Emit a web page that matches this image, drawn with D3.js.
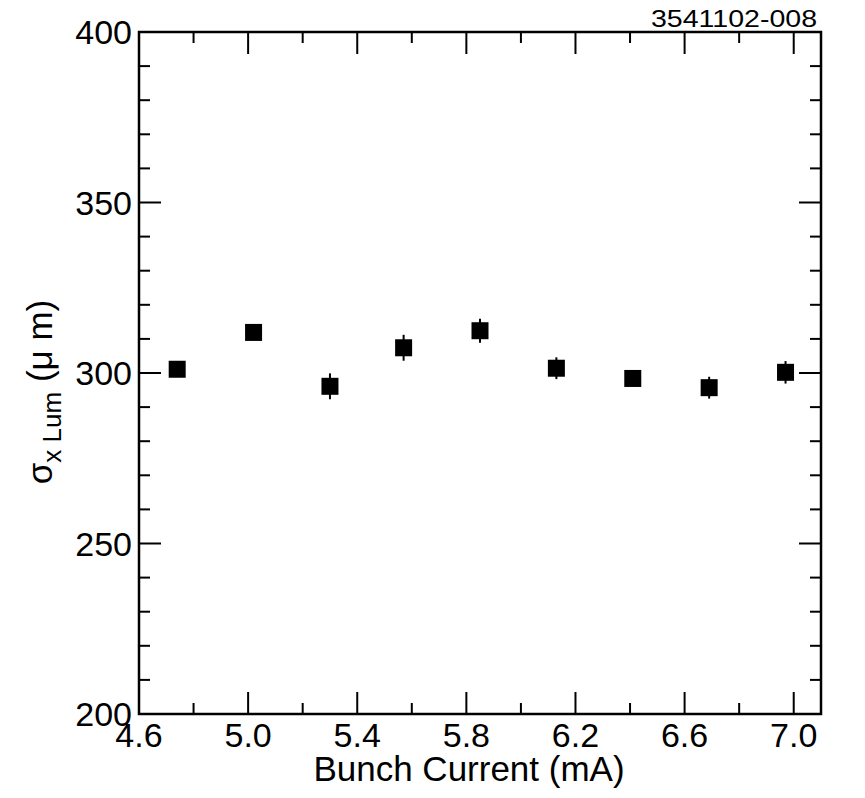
<!DOCTYPE html>
<html>
<head>
<meta charset="utf-8">
<script src="https://cdn.jsdelivr.net/npm/d3@7"></script>
<style>
  body { margin: 0; background: #fff; }
  text { font-family: "Liberation Sans", Arial, sans-serif; fill: #000; }
</style>
</head>
<body>
<div class="chart"></div>
<script>
// bunch current (mA) and sigma_x Lum (um) with errors
var current = [4.74, 5.02, 5.30, 5.57, 5.85, 6.13, 6.41, 6.69, 6.97]
var sigma = [301.1, 311.9, 296.1, 307.4, 312.4, 301.4, 298.4, 295.7, 300.2]
var sigmaErr = [1.5, 1.5, 3.8, 3.8, 3.5, 3.2, 1.5, 3.2, 3.3]
var xTicks = [4.6, 5.0, 5.4, 5.8, 6.2, 6.6, 7.0]
var xMinorTicks = [4.8, 5.2, 5.6, 6.0, 6.4, 6.8]
var yTicks = [200, 250, 300, 350, 400]
var yMinorTicks = [210, 220, 230, 240, 260, 270, 280, 290, 310, 320, 330, 340, 360, 370, 380, 390]

var W = 865, H = 798
var pl = 139, pr = 821, pt = 32, pb = 714
var majorLen = 22, minorLen = 11

var svg = d3.select('.chart')
    .append('svg')
    .attr('width', W)
    .attr('height', H)

var x = d3.scaleLinear().domain([4.6, 7.1]).range([pl, pr])
var y = d3.scaleLinear().domain([200, 400]).range([pb, pt])

// inward ticks on all four sides
function xTickLines(vals, len) {
    var g = svg.append('g').attr('stroke', '#000').attr('stroke-width', 2)
    g.selectAll('.b').data(vals).enter().append('line')
        .attr('x1', d => x(d)).attr('x2', d => x(d))
        .attr('y1', pb).attr('y2', pb - len)
    g.selectAll('.t').data(vals).enter().append('line')
        .attr('x1', d => x(d)).attr('x2', d => x(d))
        .attr('y1', pt).attr('y2', pt + len)
}
function yTickLines(vals, len) {
    var g = svg.append('g').attr('stroke', '#000').attr('stroke-width', 2)
    g.selectAll('.l').data(vals).enter().append('line')
        .attr('y1', d => y(d)).attr('y2', d => y(d))
        .attr('x1', pl).attr('x2', pl + len)
    g.selectAll('.r').data(vals).enter().append('line')
        .attr('y1', d => y(d)).attr('y2', d => y(d))
        .attr('x1', pr).attr('x2', pr - len)
}
xTickLines(xTicks, majorLen)
xTickLines(xMinorTicks, minorLen)
yTickLines(yTicks, majorLen)
yTickLines(yMinorTicks, minorLen)

// frame
svg.append('rect')
    .attr('x', pl).attr('y', pt)
    .attr('width', pr - pl).attr('height', pb - pt)
    .attr('fill', 'none').attr('stroke', '#000').attr('stroke-width', 2.5)

// tick labels
svg.append('g').selectAll('text')
    .data(xTicks)
    .enter().append('text')
    .attr('x', d => x(d))
    .attr('y', 747)
    .attr('text-anchor', 'middle')
    .style('font-size', '34px')
    .text(d => d.toFixed(1))

svg.append('g').selectAll('text')
    .data(yTicks)
    .enter().append('text')
    .attr('x', 132)
    .attr('y', d => y(d) + 12)
    .attr('text-anchor', 'end')
    .style('font-size', '34px')
    .text(d => d)

// axis titles
svg.append('text')
    .attr('x', 469)
    .attr('y', 781)
    .attr('text-anchor', 'middle')
    .style('font-size', '35px')
    .text('Bunch Current (mA)')

var yl = svg.append('text')
    .attr('transform', 'translate(52,392) rotate(-90)')
    .attr('text-anchor', 'middle')
    .style('font-size', '35px')
yl.append('tspan').text('σ')
yl.append('tspan').attr('dy', 9).style('font-size', '26px').text('x Lum')
yl.append('tspan').attr('dy', -9).text(' (μ m)')

svg.append('text')
    .attr('x', 817)
    .attr('y', 27)
    .attr('text-anchor', 'end')
    .attr('textLength', 166)
    .attr('lengthAdjust', 'spacingAndGlyphs')
    .style('font-size', '23px')
    .text('3541102-008')

// points with error bars
var pts = svg.append('g').selectAll('g')
    .data(current.map((c, i) => ({ c: c, s: sigma[i], e: sigmaErr[i] })))
    .enter().append('g')

pts.append('line')
    .attr('x1', d => x(d.c)).attr('x2', d => x(d.c))
    .attr('y1', d => y(d.s - d.e)).attr('y2', d => y(d.s + d.e))
    .attr('stroke', '#000').attr('stroke-width', 2)

pts.append('rect')
    .attr('x', d => x(d.c) - 8.5)
    .attr('y', d => y(d.s) - 8.5)
    .attr('width', 17).attr('height', 17)
    .attr('fill', '#000')
</script>
</body>
</html>
